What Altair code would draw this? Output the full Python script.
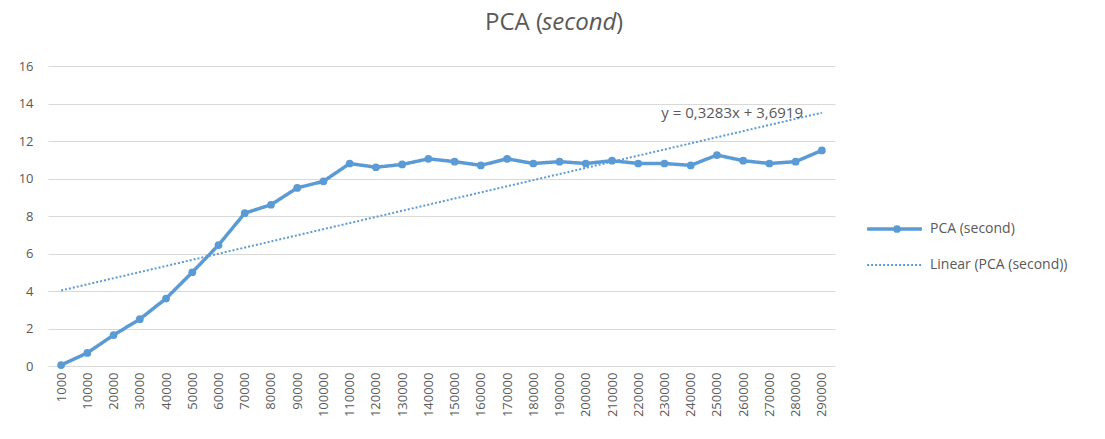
import altair as alt
import pandas as pd

categories = ["1000", "10000", "20000", "30000", "40000", "50000", "60000", "70000",
              "80000", "90000", "100000", "110000", "120000", "130000", "140000",
              "150000", "160000", "170000", "180000", "190000", "200000", "210000",
              "220000", "230000", "240000", "250000", "260000", "270000", "280000",
              "290000"]
values = [0.05, 0.7, 1.65, 2.5, 3.6, 5.0, 6.45, 8.15, 8.6, 9.5, 9.85, 10.8, 10.6,
          10.75, 11.05, 10.9, 10.7, 11.05, 10.8, 10.9, 10.8, 10.95, 10.8, 10.8,
          10.7, 11.25, 10.95, 10.8, 10.9, 11.5]
series_names = ["PCA (second)", "Linear (PCA (second))"]
equation = "y = 0,3283x + 3,6919"
title_parts = ["PCA (", "second", ")"]

df = pd.DataFrame({
    "idx": list(range(1, len(categories) + 1)),
    "cat": categories,
    "value": values,
})

BLUE = "#5b9bd5"
GRAY = "#595959"
FONT = "Open Sans"
TOP = 58
H = 300

label_array = "[" + ",".join("'" + c + "'" for c in categories) + "]"

x_enc = alt.X("idx:Q",
              scale=alt.Scale(domain=[0.5, len(categories) + 0.5], nice=False, zero=False),
              axis=alt.Axis(values=list(range(1, len(categories) + 1)),
                            labelExpr=label_array + "[datum.value - 1]",
                            labelAngle=-90, grid=False, ticks=False, domain=False,
                            labelColor=GRAY, labelFont=FONT, labelFontSize=13,
                            labelPadding=6, title=None, labelOverlap=False))
y_enc = alt.Y("value:Q",
              scale=alt.Scale(domain=[0, 16], nice=False, range=[TOP + H, TOP]),
              axis=alt.Axis(values=list(range(0, 17, 2)), grid=True, gridColor="#d9d9d9",
                            ticks=False, domain=False, labelColor=GRAY, labelFont=FONT,
                            labelFontSize=13, labelPadding=15, title=None))

color_scale = alt.Scale(domain=series_names, range=[BLUE, BLUE])
dash_scale = alt.Scale(domain=series_names, range=[[1, 0], [2, 2]])
width_scale = alt.Scale(domain=series_names, range=[3.5, 2])

legend = alt.Legend(title=None, orient="none", legendX=817, legendY=TOP + 155,
                    symbolType="stroke", symbolSize=3000, clipHeight=16,
                    rowPadding=20, labelFont=FONT, labelFontSize=14, labelColor=GRAY,
                    labelOffset=6)
pt_legend = alt.Legend(title=None, orient="none", legendX=842, legendY=TOP + 155,
                       symbolType="circle", symbolSize=60, clipHeight=16,
                       symbolStrokeWidth=0, labelFont=FONT, labelFontSize=14,
                       labelExpr="''", labelColor=GRAY)

base = alt.Chart(df)

main = base.transform_calculate(series="'" + series_names[0] + "'").mark_line().encode(
    x=x_enc, y=y_enc,
    color=alt.Color("series:N", scale=color_scale, legend=legend),
    strokeDash=alt.StrokeDash("series:N", scale=dash_scale, legend=legend),
    strokeWidth=alt.StrokeWidth("series:N", scale=width_scale, legend=legend),
)

points = base.transform_calculate(pt_series="'" + series_names[0] + "'").mark_point(
    filled=True, size=60, opacity=1
).encode(
    x=x_enc, y=y_enc,
    fill=alt.Fill("pt_series:N", scale=alt.Scale(domain=[series_names[0]], range=[BLUE]),
                  legend=pt_legend),
)

trend = base.transform_regression("idx", "value", extent=[1, len(categories)]).transform_calculate(
    series="'" + series_names[1] + "'"
).mark_line().encode(
    x=x_enc, y=y_enc,
    color=alt.Color("series:N", scale=color_scale, legend=legend),
    strokeDash=alt.StrokeDash("series:N", scale=dash_scale, legend=legend),
    strokeWidth=alt.StrokeWidth("series:N", scale=width_scale, legend=legend),
)

eq_text = alt.Chart(pd.DataFrame({"t": [equation]})).mark_text(
    align="right", baseline="middle", font=FONT, fontSize=15, color=GRAY
).encode(text="t:N", x=alt.value(755), y=alt.value(TOP + 47))

t1 = alt.Chart(pd.DataFrame({"t": [title_parts[0]]})).mark_text(
    align="right", baseline="middle", font=FONT, fontSize=24, color=GRAY
).encode(text="t:N", x=alt.value(495), y=alt.value(TOP - 43))
t2 = alt.Chart(pd.DataFrame({"t": [title_parts[1]]})).mark_text(
    align="left", baseline="middle", font=FONT, fontSize=24, color=GRAY, fontStyle="italic"
).encode(text="t:N", x=alt.value(494), y=alt.value(TOP - 43))
t3 = alt.Chart(pd.DataFrame({"t": [title_parts[2]]})).mark_text(
    align="left", baseline="middle", font=FONT, fontSize=24, color=GRAY
).encode(text="t:N", x=alt.value(568), y=alt.value(TOP - 43))

chart = alt.layer(trend, main, points, eq_text, t1, t2, t3).properties(
    width=787, height=TOP + H,
    padding={"left": 40, "top": 0, "right": 262, "bottom": 65},
    autosize=alt.AutoSizeParams(type="none"),
).configure_view(stroke=None)

chart.save("out.html", embed_options={"renderer": "svg", "actions": False})
